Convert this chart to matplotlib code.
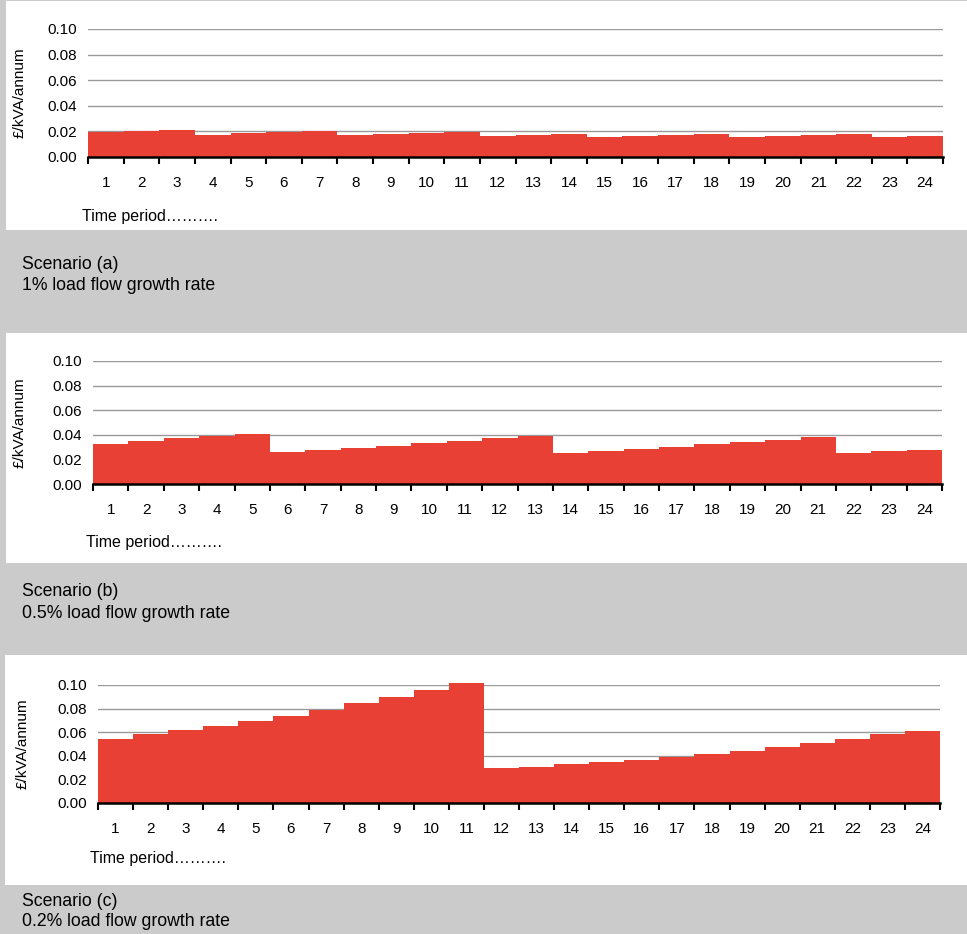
import numpy as np
import matplotlib
matplotlib.use('Agg')
import matplotlib.pyplot as plt
from matplotlib.patches import Rectangle

plt.rcParams['font.family'] = ['Liberation Sans', 'DejaVu Sans']

# Data
# ~~~~
periods = list(range(1, 25))

scenario_a = [0.0193, 0.0203, 0.0213, 0.0172, 0.0185, 0.0193, 0.0203, 0.0172,
              0.0177, 0.0185, 0.0195, 0.0162, 0.0169, 0.0177, 0.0154, 0.0162,
              0.0169, 0.0177, 0.0154, 0.0162, 0.0169, 0.0177, 0.0154, 0.0162]

scenario_b = [0.0323, 0.0351, 0.0370, 0.0394, 0.0410, 0.0261, 0.0277, 0.0296,
              0.0313, 0.0332, 0.0351, 0.0370, 0.0394, 0.0250, 0.0269, 0.0288,
              0.0304, 0.0323, 0.0340, 0.0359, 0.0386, 0.0250, 0.0269, 0.0277]

scenario_c = [0.0543, 0.0582, 0.0619, 0.0656, 0.0696, 0.0741, 0.0787, 0.0847,
              0.0901, 0.0957, 0.1014, 0.0293, 0.0307, 0.0327, 0.0347, 0.0366,
              0.0392, 0.0412, 0.0440, 0.0477, 0.0506, 0.0543, 0.0582, 0.0611]

captions = [
    ("Scenario (a)", "1% load flow growth rate"),
    ("Scenario (b)", "0.5% load flow growth rate"),
    ("Scenario (c)", "0.2% load flow growth rate"),
]

yticks = [0.00, 0.02, 0.04, 0.06, 0.08, 0.10]

# Layout (pixels)
# ~~~~~~~~~~~~~~~
W, H = 967, 934
red = '#E84034'
grey_bg = '#CBCBCB'

# white panel: (x0, y_top, y_bottom)
panels = [(6, 1, 230), (6, 333, 563), (5, 655, 885)]
# axes: (left, right, y of 0.10, y of 0.00)
axes_px = [(88, 943, 29, 157), (93, 942, 361, 484), (98, 940, 685, 803)]
ylabel_x = [20, 20, 23]
timelabel = [(82, 216), (86, 542), (90, 859)]
caption_y = [(265, 286), (592, 614), (902, 922)]

fig = plt.figure(figsize=(W / 100, H / 100), dpi=100, facecolor=grey_bg)

for k, values in enumerate([scenario_a, scenario_b, scenario_c]):
    x0, yt, yb = panels[k]
    fig.patches.append(Rectangle(
        (x0 / W, 1 - yb / H), (W - x0) / W, (yb - yt) / H,
        transform=fig.transFigure, facecolor='white', edgecolor='none', zorder=-5
    ))

    l, r, t, b = axes_px[k]
    ax = fig.add_axes([l / W, 1 - b / H, (r - l) / W, (b - t) / H], zorder=2)
    ax.set_facecolor('none')

    ax.bar(periods, values, width=1.0, color=red, edgecolor='none',
           zorder=2, clip_on=False)

    ax.set_xlim(0.5, 24.5)
    ax.set_ylim(0, 0.10)
    ax.set_yticks(yticks)
    ax.set_yticklabels([f'{v:.2f}' for v in yticks])
    ax.yaxis.grid(True, color='#9A9A9A', linewidth=1.0, zorder=1)
    ax.set_axisbelow(True)

    ax.set_xticks(periods)
    ax.set_xticklabels([str(p) for p in periods])
    ax.set_xticks(np.arange(0.5, 25, 1.0), minor=True)
    ax.tick_params(axis='x', which='major', length=0, pad=14, labelsize=11)
    ax.tick_params(axis='x', which='minor', length=5, width=1.5,
                   color='black', direction='out')
    ax.tick_params(axis='y', length=0, pad=8, labelsize=11)

    for s in ['top', 'right', 'left']:
        ax.spines[s].set_visible(False)
    ax.spines['bottom'].set_linewidth(1.8)
    ax.spines['bottom'].set_zorder(3)

    fig.text(ylabel_x[k] / W, 1 - (t + b) / 2 / H, '£/kVA/annum',
             rotation=90, ha='center', va='center', fontsize=11)
    tx, ty = timelabel[k]
    fig.text(tx / W, 1 - ty / H, 'Time period……….',
             ha='left', va='center', fontsize=11.5)
    c1, c2 = caption_y[k]
    fig.text(22 / W, 1 - c1 / H, captions[k][0],
             ha='left', va='center', fontsize=12.7)
    fig.text(22 / W, 1 - c2 / H, captions[k][1],
             ha='left', va='center', fontsize=12.7)

fig.savefig('out.png', dpi=100, facecolor=fig.get_facecolor())
